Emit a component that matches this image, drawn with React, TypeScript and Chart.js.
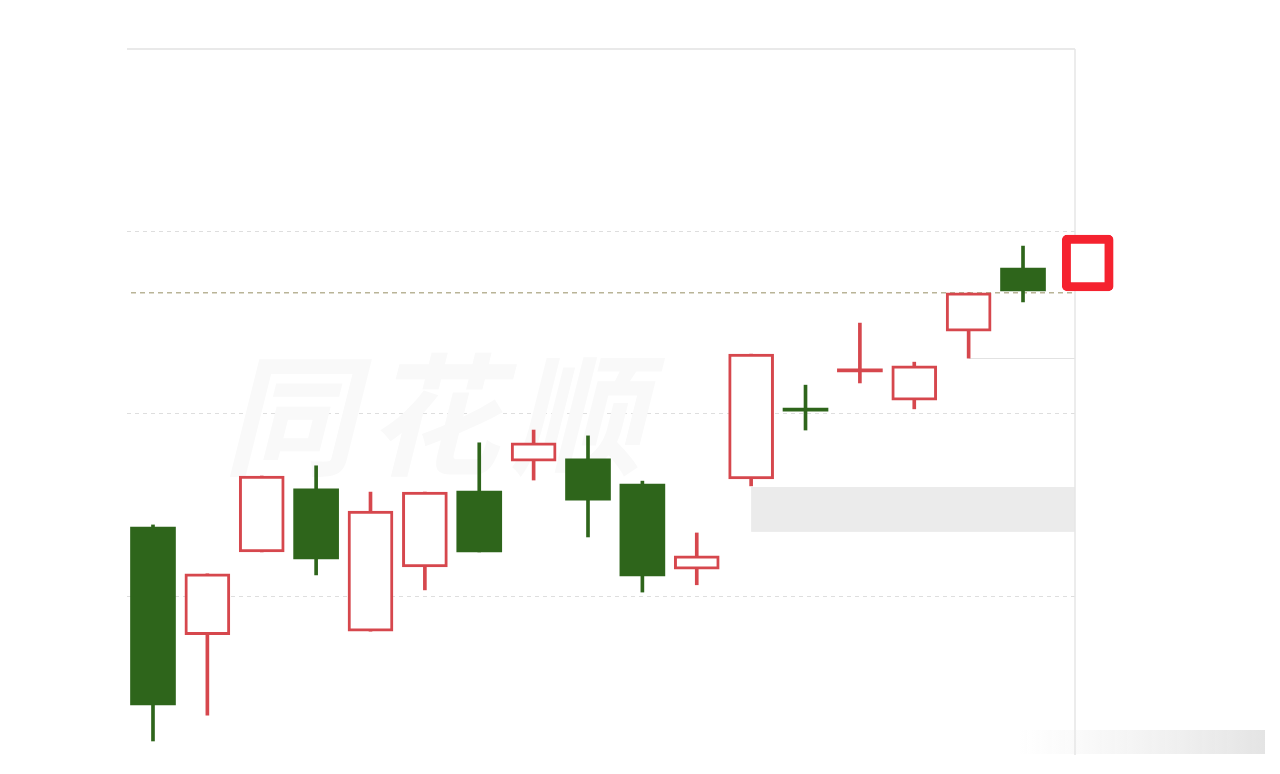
import React, { useEffect, useRef } from 'react';
import { Chart, registerables } from 'chart.js';

Chart.register(...registerables);

// candle positions (index along the time axis)
const positions = [0, 1, 2, 3, 4, 5, 6, 7, 8, 9, 10, 11, 12, 13, 14, 15, 16];
const opens = [10.690, 10.395, 10.622, 10.795, 10.405, 10.581, 10.789, 10.871, 10.877, 10.808, 10.575, 10.822, 11.016, 11.115, 11.038, 11.227, 11.400];
const closes = [10.203, 10.562, 10.830, 10.603, 10.734, 10.786, 10.622, 10.921, 10.764, 10.556, 10.611, 11.164, 11.008, 11.124, 11.132, 11.332, 11.337];
const highs = [10.696, 10.562, 10.830, 10.858, 10.786, 10.786, 10.921, 10.956, 10.940, 10.816, 10.674, 11.164, 11.079, 11.249, 11.142, 11.332, 11.460];
const lows = [10.104, 10.175, 10.622, 10.559, 10.405, 10.518, 10.622, 10.819, 10.663, 10.512, 10.532, 10.803, 10.956, 11.085, 11.014, 11.153, 11.307];

// highlighted box (next bar)
const markerX = [17.19];
const markerLow = [11.337];
const markerHigh = [11.490];

// y grid values
const gridTicks = [10.5, 11.0, 11.5, 12.0];
const yMin = 10.093;
const yMax = 12.0;
const xMin = -0.478;
const xMax = 16.956;

// reference price (dashed line)
const refPrice = 11.332;

// shaded zone and level line
const zoneStart = [11];
const zoneTop = [10.800];
const zoneBottom = [10.677];
const levelStart = [15];
const levelPrice = [11.153];

const watermark = '同花顺';

const RED = '#d6474d';
const GREEN = '#2e651b';
const BOX_RED = '#f5222f';

export default function App() {
  const ref = useRef<HTMLCanvasElement | null>(null);

  useEffect(() => {
    if (!ref.current) return;
    const up = opens.map((o, i) => closes[i] >= o);
    const tiny = opens.map((o, i) => Math.abs(closes[i] - o) < 0.015);

    const decor = {
      id: 'decor',
      beforeDatasetsDraw(chart: any) {
        const { ctx, chartArea, scales } = chart;
        const xs = scales.x;
        const ys = scales.y;
        ctx.save();
        // watermark
        ctx.font = 'italic bold 132px "Noto Sans CJK SC"';
        ctx.fillStyle = '#f9f9f9';
        ctx.textAlign = 'center';
        ctx.textBaseline = 'middle';
        try { (ctx as any).letterSpacing = '12px'; } catch (e) {}
        ctx.fillText(watermark, chartArea.left + 312, chartArea.top + 366);
        try { (ctx as any).letterSpacing = '0px'; } catch (e) {}
        // shaded zone
        zoneStart.forEach((zx, i) => {
          const x0 = xs.getPixelForValue(zx);
          const y0 = ys.getPixelForValue(zoneTop[i]);
          const y1 = ys.getPixelForValue(zoneBottom[i]);
          ctx.fillStyle = '#ebebeb';
          ctx.fillRect(x0, y0, chartArea.right - x0, y1 - y0);
        });
        // level line
        levelStart.forEach((lx, i) => {
          const x0 = xs.getPixelForValue(lx);
          const y0 = Math.round(ys.getPixelForValue(levelPrice[i])) + 0.5;
          ctx.strokeStyle = '#e2e2e2';
          ctx.lineWidth = 1;
          ctx.beginPath();
          ctx.moveTo(x0, y0);
          ctx.lineTo(chartArea.right, y0);
          ctx.stroke();
        });
        // right border
        ctx.strokeStyle = '#e6e6e6';
        ctx.lineWidth = 1.5;
        ctx.beginPath();
        ctx.moveTo(chartArea.right, chartArea.top);
        ctx.lineTo(chartArea.right, chartArea.bottom + 10);
        ctx.stroke();
        // reference dashed line
        const ry = ys.getPixelForValue(refPrice);
        ctx.strokeStyle = '#b9b497';
        ctx.lineWidth = 1.5;
        ctx.setLineDash([5, 4]);
        ctx.beginPath();
        ctx.moveTo(chartArea.left + 4, ry);
        ctx.lineTo(chartArea.right, ry);
        ctx.stroke();
        ctx.setLineDash([]);
        // bottom-right smudge
        const g = ctx.createLinearGradient(1015, 0, 1265, 0);
        g.addColorStop(0, 'rgba(235,235,235,0)');
        g.addColorStop(1, 'rgba(225,225,225,0.9)');
        ctx.fillStyle = g;
        ctx.fillRect(1015, 730, 250, 24);
        ctx.restore();
      },
    };

    const chart = new Chart(ref.current, {
      type: 'bar',
      data: {
        datasets: [
          {
            label: 'wick',
            data: positions.map((x, i) => ({ x, y: [lows[i], highs[i]] })) as any,
            backgroundColor: up.map((u) => (u ? RED : GREEN)),
            borderWidth: 0,
            barThickness: 3,
            grouped: false,
            order: 3,
          } as any,
          {
            label: 'body',
            data: positions.map((x, i) => ({ x, y: [opens[i], closes[i]] })) as any,
            backgroundColor: up.map((u, i) => (u ? (tiny[i] ? RED : '#ffffff') : GREEN)),
            borderColor: up.map((u) => (u ? RED : GREEN)),
            borderWidth: up.map((u, i) => (u && !tiny[i] ? 3 : 0)),
            borderSkipped: false,
            barThickness: 45,
            grouped: false,
            order: 2,
          } as any,
          {
            label: 'marker',
            data: markerX.map((x, i) => ({ x, y: [markerLow[i], markerHigh[i]] })) as any,
            backgroundColor: '#ffffff',
            borderColor: BOX_RED,
            borderWidth: 9,
            borderRadius: 5,
            borderSkipped: false,
            barThickness: 51,
            grouped: false,
            clip: false,
            order: 1,
          } as any,
        ],
      },
      options: {
        responsive: false,
        animation: false,
        events: [],
        layout: { padding: { left: 127, top: 49, right: 205, bottom: 29 } },
        plugins: { legend: { display: false }, tooltip: { enabled: false } },
        scales: {
          x: {
            type: 'linear',
            min: xMin,
            max: xMax,
            offset: false,
            display: false,
          },
          y: {
            type: 'linear',
            min: yMin,
            max: yMax,
            afterBuildTicks: (s: any) => {
              s.ticks = gridTicks.map((v) => ({ value: v }));
            },
            afterFit: (s: any) => {
              s.width = 0;
            },
            ticks: { display: false },
            grid: {
              drawTicks: false,
              color: (c: any) => (c.tick && c.tick.value === yMax ? '#e9e9e9' : '#dedede'),
              lineWidth: (c: any) => (c.tick && c.tick.value === yMax ? 2 : 1),
            },
            border: {
              display: false,
              dash: (c: any) => (c.tick && c.tick.value === yMax ? [] : [4, 4]),
            } as any,
          },
        },
      } as any,
      plugins: [decor],
    });
    return () => chart.destroy();
  }, []);

  return (
    <canvas
      ref={ref}
      width={1280}
      height={774}
      style={{ position: 'absolute', left: 0, top: 0, width: 1280, height: 774 }}
    />
  );
}
